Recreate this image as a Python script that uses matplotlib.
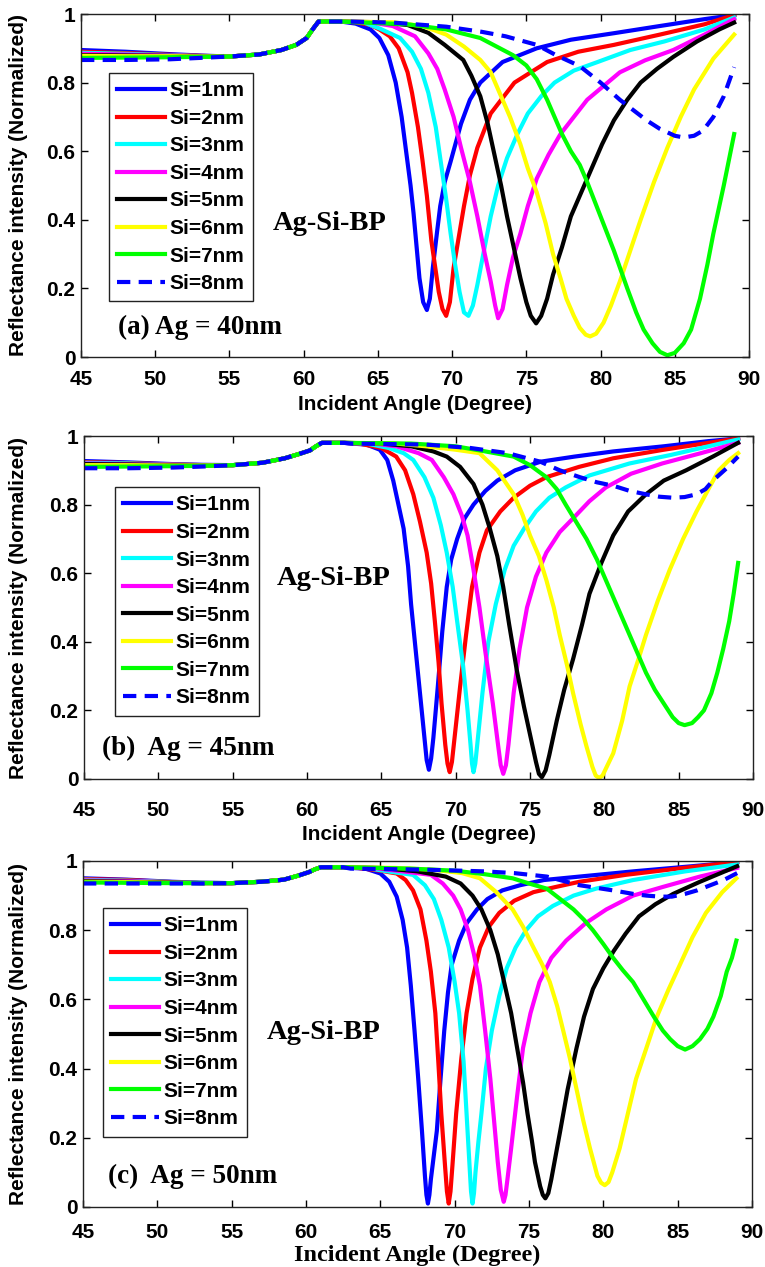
import matplotlib
matplotlib.use('Agg')
import matplotlib.pyplot as plt

plt.rcParams['font.family'] = ['Liberation Sans', 'DejaVu Sans']
plt.rcParams['font.weight'] = 'bold'

labels = ['Si=1nm', 'Si=2nm', 'Si=3nm', 'Si=4nm', 'Si=5nm', 'Si=6nm', 'Si=7nm', 'Si=8nm']
colors = ['#0000ff', '#ff0000', '#00ffff', '#ff00ff', '#000000', '#ffff00', '#00ff00', '#0000ff']

# left part of every curve (45..62.5 deg): per-curve start values, then a shared part
left_x = [45, 48, 51, 53, 55, 57, 58.5, 59.5, 60.2, 60.6, 61.0, 62.5]

# ---------------- (a) Ag = 40nm ----------------
a_head = [[0.895, 0.89, 0.883, 0.879], [0.89, 0.886, 0.881, 0.878], [0.887, 0.884, 0.88, 0.877],
          [0.884, 0.882, 0.879, 0.877], [0.88, 0.879, 0.878, 0.876], [0.878, 0.877, 0.877, 0.876],
          [0.872, 0.873, 0.874, 0.875], [0.866, 0.866, 0.868, 0.872]]
a_shared = [0.876, 0.882, 0.895, 0.91, 0.93, 0.955, 0.978, 0.978]
a_x = [
    [63.5, 64.5, 65.1, 65.7, 66.2, 66.6, 66.9, 67.2, 67.4, 67.8, 68.05, 68.3, 68.5, 68.7, 69.0, 69.2, 69.5, 69.9, 70.6, 71.2, 71.9, 73.4, 75.7, 78.0, 80.9, 84.0, 87.0, 89.0],
    [63.5, 64.5, 65.1, 65.8, 66.4, 67.0, 67.3, 67.7, 68.0, 68.3, 68.6, 68.9, 69.1, 69.35, 69.6, 69.85, 70.1, 70.45, 70.8, 71.2, 71.7, 72.6, 74.2, 76.4, 78.5, 80.9, 84.0, 87.0, 89.0],
    [64.0, 65.1, 66.5, 67.3, 67.9, 68.4, 68.9, 69.3, 69.6, 69.9, 70.2, 70.5, 70.8, 71.1, 71.4, 71.7, 72.1, 72.6, 73.1, 73.7, 74.4, 75.1, 76.0, 76.9, 78.2, 79.8, 82.0, 84.3, 87.0, 89.0],
    [64.5, 66.0, 67.5, 68.4, 69.0, 69.5, 70.1, 70.6, 71.2, 71.7, 72.2, 72.6, 72.9, 73.1, 73.4, 73.7, 74.1, 74.6, 75.1, 75.7, 76.5, 77.3, 78.2, 79.1, 80.2, 81.3, 83.0, 84.9, 87.0, 89.0],
    [65.0, 67.0, 68.4, 69.5, 70.75, 71.3, 71.9, 72.4, 72.8, 73.3, 73.7, 74.2, 74.6, 75.0, 75.3, 75.66, 76.0, 76.4, 76.8, 77.4, 78.0, 78.7, 79.4, 80.1, 80.9, 81.8, 82.7, 83.8, 84.9, 86.5, 88.0, 89.0],
    [66.0, 68.0, 69.6, 70.8, 71.9, 72.6, 73.2, 73.9, 74.6, 75.1, 75.7, 76.3, 76.8, 77.3, 77.7, 78.2, 78.6, 79.0, 79.3, 79.7, 80.2, 80.7, 81.3, 82.0, 82.7, 83.6, 84.5, 85.4, 86.3, 87.6, 89.0],
    [67.0, 69.6, 71.9, 74.1, 75.0, 75.7, 76.4, 76.9, 77.4, 78.0, 78.6, 79.1, 80.0, 80.9, 81.8, 82.4, 82.9, 83.5, 84.0, 84.5, 85.0, 85.6, 86.1, 86.7, 87.2, 87.6, 88.3, 89.0],
    [63, 66, 69.6, 72.0, 73.6, 75.7, 77.0, 78.6, 80.0, 81.3, 82.2, 83.1, 84.0, 85.0, 85.6, 86.3, 86.9, 87.6, 88.3, 89.0],
]
a_y = [
    [0.972, 0.955, 0.93, 0.88, 0.80, 0.70, 0.60, 0.50, 0.42, 0.23, 0.16, 0.137, 0.17, 0.26, 0.37, 0.44, 0.51, 0.57, 0.68, 0.75, 0.80, 0.86, 0.90, 0.925, 0.944, 0.965, 0.985, 0.997],
    [0.976, 0.968, 0.955, 0.935, 0.90, 0.83, 0.77, 0.67, 0.575, 0.47, 0.34, 0.25, 0.19, 0.14, 0.12, 0.16, 0.26, 0.35, 0.44, 0.53, 0.61, 0.71, 0.80, 0.86, 0.89, 0.91, 0.94, 0.97, 0.997],
    [0.976, 0.958, 0.93, 0.89, 0.84, 0.77, 0.67, 0.55, 0.46, 0.36, 0.27, 0.19, 0.13, 0.12, 0.15, 0.21, 0.30, 0.41, 0.50, 0.58, 0.65, 0.71, 0.76, 0.80, 0.835, 0.86, 0.895, 0.92, 0.955, 0.99],
    [0.976, 0.965, 0.935, 0.885, 0.84, 0.78, 0.70, 0.61, 0.51, 0.41, 0.30, 0.22, 0.15, 0.113, 0.14, 0.21, 0.29, 0.36, 0.44, 0.52, 0.59, 0.65, 0.70, 0.75, 0.79, 0.83, 0.865, 0.895, 0.94, 0.985],
    [0.976, 0.968, 0.945, 0.91, 0.866, 0.82, 0.76, 0.68, 0.60, 0.50, 0.41, 0.31, 0.23, 0.16, 0.12, 0.098, 0.12, 0.17, 0.24, 0.32, 0.41, 0.48, 0.55, 0.62, 0.69, 0.75, 0.80, 0.84, 0.875, 0.92, 0.955, 0.975],
    [0.976, 0.965, 0.94, 0.905, 0.866, 0.83, 0.77, 0.70, 0.62, 0.55, 0.48, 0.39, 0.30, 0.23, 0.17, 0.12, 0.085, 0.065, 0.06, 0.068, 0.10, 0.15, 0.22, 0.31, 0.40, 0.51, 0.61, 0.70, 0.78, 0.87, 0.94],
    [0.97, 0.955, 0.93, 0.88, 0.85, 0.81, 0.75, 0.70, 0.65, 0.60, 0.56, 0.51, 0.41, 0.31, 0.20, 0.13, 0.08, 0.04, 0.015, 0.005, 0.012, 0.04, 0.08, 0.17, 0.27, 0.36, 0.50, 0.65],
    [0.978, 0.975, 0.963, 0.948, 0.935, 0.91, 0.88, 0.848, 0.80, 0.75, 0.72, 0.69, 0.665, 0.645, 0.64, 0.645, 0.66, 0.70, 0.76, 0.845],
]

# ---------------- (b) Ag = 45nm ----------------
b_head = [[0.927, 0.923, 0.918, 0.916], [0.924, 0.921, 0.917, 0.915], [0.922, 0.92, 0.916, 0.915],
          [0.92, 0.918, 0.916, 0.914], [0.918, 0.917, 0.915, 0.914], [0.915, 0.915, 0.914, 0.914],
          [0.91, 0.911, 0.912, 0.913], [0.906, 0.906, 0.908, 0.911]]
b_shared = [0.915, 0.922, 0.935, 0.948, 0.958, 0.97, 0.98, 0.98]
b_x = [
    [63.0, 64.0, 64.9, 65.4, 65.8, 66.2, 66.5, 66.8, 67.0, 67.3, 67.6, 67.9, 68.05, 68.2, 68.35, 68.5, 68.8, 69.1, 69.4, 69.7, 70.1, 70.6, 71.2, 72.0, 72.8, 74.0, 75.7, 78.0, 80.6, 84.0, 87.0, 89.0],
    [63.5, 65.0, 66.0, 66.6, 67.15, 67.6, 68.05, 68.35, 68.6, 68.85, 69.05, 69.3, 69.45, 69.6, 69.75, 69.9, 70.3, 70.7, 71.1, 71.6, 72.1, 73.0, 73.9, 75.0, 76.1, 78.3, 80.6, 84.0, 87.0, 89.0],
    [64.0, 65.5, 66.5, 67.15, 67.9, 68.5, 69.0, 69.4, 69.8, 70.1, 70.5, 70.8, 71.0, 71.1, 71.2, 71.32, 71.45, 71.8, 72.2, 72.7, 73.3, 73.9, 74.6, 75.4, 76.3, 77.4, 79.0, 81.7, 84.5, 87.0, 89.0],
    [64.5, 66.0, 67.5, 68.4, 69.2, 69.85, 70.4, 70.8, 71.2, 71.6, 72.0, 72.5, 72.85, 73.03, 73.2, 73.38, 73.55, 73.9, 74.3, 74.8, 75.4, 76.1, 77.0, 77.9, 79.0, 80.1, 81.8, 83.9, 86.5, 89.0],
    [65.0, 67.0, 68.5, 69.4, 70.3, 71.2, 71.8, 72.3, 72.8, 73.2, 73.6, 74.1, 74.6, 75.0, 75.4, 75.6, 75.8, 76.05, 76.3, 76.8, 77.3, 77.9, 78.5, 79.0, 79.8, 80.6, 81.6, 82.8, 84.0, 85.5, 87.3, 89.0],
    [66.0, 68.0, 70.0, 71.6, 72.8, 73.9, 74.5, 75.0, 75.6, 76.1, 76.6, 77.0, 77.5, 77.9, 78.4, 78.8, 79.2, 79.42, 79.65, 79.88, 80.1, 80.6, 81.2, 81.7, 82.3, 82.8, 83.6, 84.4, 85.3, 86.2, 87.0, 87.7, 88.4, 89.0],
    [67.0, 70.0, 72.0, 73.9, 75.0, 76.1, 76.8, 77.4, 78.1, 78.8, 79.5, 80.1, 80.8, 81.5, 82.2, 82.8, 83.4, 84.0, 84.6, 85.0, 85.4, 85.9, 86.3, 86.7, 87.2, 87.6, 88.0, 88.4, 88.7, 89.0],
    [63, 68, 71, 73.5, 75.7, 77.0, 78.35, 79.5, 80.6, 81.7, 82.8, 83.7, 84.6, 85.4, 86.2, 86.8, 87.3, 88.2, 89.0],
]
b_y = [
    [0.978, 0.975, 0.96, 0.93, 0.87, 0.79, 0.73, 0.62, 0.51, 0.38, 0.25, 0.12, 0.055, 0.027, 0.06, 0.12, 0.27, 0.43, 0.56, 0.64, 0.70, 0.76, 0.80, 0.84, 0.87, 0.90, 0.925, 0.94, 0.955, 0.97, 0.985, 0.993],
    [0.978, 0.965, 0.94, 0.90, 0.83, 0.75, 0.66, 0.57, 0.46, 0.34, 0.22, 0.10, 0.045, 0.02, 0.05, 0.11, 0.27, 0.42, 0.56, 0.66, 0.725, 0.78, 0.82, 0.855, 0.88, 0.91, 0.935, 0.96, 0.98, 0.993],
    [0.978, 0.965, 0.95, 0.93, 0.88, 0.82, 0.74, 0.66, 0.56, 0.46, 0.33, 0.20, 0.10, 0.045, 0.02, 0.045, 0.10, 0.25, 0.40, 0.51, 0.61, 0.68, 0.73, 0.78, 0.82, 0.85, 0.885, 0.92, 0.945, 0.97, 0.99],
    [0.978, 0.97, 0.95, 0.93, 0.88, 0.83, 0.77, 0.71, 0.61, 0.50, 0.37, 0.22, 0.10, 0.04, 0.015, 0.04, 0.10, 0.25, 0.38, 0.50, 0.59, 0.66, 0.72, 0.76, 0.81, 0.85, 0.89, 0.92, 0.95, 0.98],
    [0.978, 0.97, 0.955, 0.94, 0.91, 0.86, 0.80, 0.73, 0.65, 0.56, 0.45, 0.32, 0.21, 0.13, 0.05, 0.015, 0.005, 0.025, 0.07, 0.17, 0.26, 0.35, 0.45, 0.54, 0.63, 0.71, 0.78, 0.83, 0.87, 0.90, 0.94, 0.98],
    [0.978, 0.97, 0.96, 0.95, 0.90, 0.83, 0.77, 0.71, 0.65, 0.58, 0.50, 0.42, 0.33, 0.25, 0.16, 0.095, 0.035, 0.01, 0.003, 0.01, 0.03, 0.075, 0.17, 0.27, 0.35, 0.42, 0.52, 0.61, 0.70, 0.78, 0.845, 0.90, 0.93, 0.95],
    [0.978, 0.97, 0.955, 0.94, 0.915, 0.88, 0.845, 0.80, 0.75, 0.70, 0.64, 0.58, 0.51, 0.44, 0.37, 0.31, 0.26, 0.22, 0.18, 0.163, 0.157, 0.163, 0.18, 0.20, 0.25, 0.31, 0.38, 0.46, 0.54, 0.63],
    [0.978, 0.975, 0.965, 0.95, 0.925, 0.90, 0.88, 0.865, 0.855, 0.84, 0.83, 0.823, 0.82, 0.822, 0.83, 0.845, 0.87, 0.905, 0.94],
]

# ---------------- (c) Ag = 50nm ----------------
c_head = [[0.95, 0.946, 0.94, 0.937], [0.948, 0.945, 0.939, 0.937], [0.946, 0.943, 0.939, 0.937],
          [0.944, 0.942, 0.938, 0.936], [0.942, 0.94, 0.938, 0.936], [0.94, 0.939, 0.937, 0.936],
          [0.938, 0.937, 0.936, 0.936], [0.935, 0.935, 0.935, 0.935]]
c_shared = [0.936, 0.94, 0.946, 0.958, 0.968, 0.976, 0.982, 0.982]
c_x = [
    [63.0, 64.0, 65.0, 65.6, 66.1, 66.5, 66.8, 67.05, 67.3, 67.55, 67.8, 68.0, 68.1, 68.2, 68.3, 68.4, 68.6, 68.8, 69.05, 69.3, 69.55, 69.8, 70.3, 70.8, 71.5, 72.2, 73.2, 74.4, 76.0, 78.4, 82.0, 86.0, 89.0],
    [63.5, 65.0, 66.1, 66.7, 67.2, 67.7, 68.1, 68.4, 68.7, 68.9, 69.1, 69.35, 69.48, 69.6, 69.72, 69.85, 70.1, 70.45, 70.8, 71.2, 71.7, 72.3, 73.0, 74.0, 75.3, 76.8, 78.4, 81.5, 85.0, 89.0],
    [64.0, 65.5, 67.2, 68.0, 68.6, 69.1, 69.6, 70.0, 70.3, 70.6, 70.8, 71.0, 71.1, 71.2, 71.3, 71.4, 71.6, 71.8, 72.1, 72.5, 73.0, 73.5, 74.1, 74.8, 75.6, 76.6, 78.0, 79.5, 82.0, 85.5, 89.0],
    [64.5, 66.5, 68.4, 69.2, 69.9, 70.4, 70.9, 71.3, 71.7, 72.05, 72.4, 72.65, 72.9, 73.1, 73.3, 73.42, 73.55, 73.8, 74.2, 74.6, 75.1, 75.7, 76.5, 77.5, 78.8, 80.2, 82.0, 84.0, 86.5, 89.0],
    [65.0, 67.5, 69.4, 70.4, 71.2, 71.8, 72.4, 72.9, 73.3, 73.8, 74.2, 74.6, 74.9, 75.2, 75.4, 75.75, 75.93, 76.1, 76.3, 76.5, 77.1, 77.6, 78.2, 78.7, 79.3, 80.0, 80.7, 81.5, 82.4, 83.5, 84.7, 86.5, 89.0],
    [66.0, 68.5, 70.5, 71.7, 72.8, 73.9, 74.6, 75.3, 75.9, 76.4, 76.9, 77.3, 77.75, 78.2, 78.65, 79.1, 79.6, 79.85, 80.1, 80.35, 80.6, 81.1, 81.65, 82.2, 82.9, 83.6, 84.4, 85.15, 86.0, 86.9, 88.0, 88.95],
    [67.0, 70.0, 72.0, 73.9, 75.0, 76.2, 77.1, 78.0, 78.7, 79.3, 80.0, 80.66, 81.3, 82.0, 82.7, 83.4, 84.0, 84.5, 85.0, 85.5, 86.0, 86.5, 87.0, 87.4, 87.9, 88.3, 88.65, 88.95],
    [63, 68, 72, 74, 76.2, 78.4, 80.66, 82.0, 82.9, 83.8, 84.6, 85.5, 86.3, 87.2, 88.1, 89.0],
]
c_y = [
    [0.98, 0.978, 0.964, 0.94, 0.897, 0.83, 0.75, 0.64, 0.51, 0.37, 0.22, 0.09, 0.035, 0.01, 0.035, 0.08, 0.15, 0.22, 0.37, 0.51, 0.62, 0.70, 0.77, 0.82, 0.86, 0.89, 0.915, 0.93, 0.945, 0.955, 0.97, 0.985, 0.997],
    [0.98, 0.972, 0.964, 0.945, 0.915, 0.86, 0.77, 0.68, 0.56, 0.42, 0.27, 0.12, 0.045, 0.01, 0.045, 0.12, 0.27, 0.43, 0.56, 0.66, 0.75, 0.81, 0.85, 0.885, 0.91, 0.925, 0.94, 0.96, 0.978, 0.997],
    [0.98, 0.97, 0.96, 0.93, 0.89, 0.83, 0.75, 0.65, 0.56, 0.42, 0.27, 0.12, 0.045, 0.01, 0.04, 0.10, 0.19, 0.27, 0.40, 0.51, 0.61, 0.69, 0.75, 0.80, 0.84, 0.87, 0.90, 0.92, 0.945, 0.97, 0.99],
    [0.98, 0.97, 0.96, 0.935, 0.90, 0.86, 0.80, 0.73, 0.64, 0.51, 0.37, 0.25, 0.13, 0.05, 0.015, 0.035, 0.08, 0.17, 0.32, 0.46, 0.56, 0.65, 0.72, 0.77, 0.82, 0.86, 0.90, 0.925, 0.955, 0.98],
    [0.98, 0.97, 0.955, 0.935, 0.90, 0.86, 0.80, 0.73, 0.655, 0.56, 0.46, 0.36, 0.27, 0.19, 0.13, 0.06, 0.035, 0.025, 0.04, 0.08, 0.22, 0.34, 0.46, 0.55, 0.63, 0.69, 0.74, 0.79, 0.84, 0.875, 0.905, 0.94, 0.985],
    [0.98, 0.975, 0.965, 0.95, 0.91, 0.86, 0.81, 0.75, 0.70, 0.65, 0.58, 0.51, 0.43, 0.34, 0.25, 0.17, 0.09, 0.07, 0.063, 0.072, 0.10, 0.17, 0.27, 0.37, 0.46, 0.55, 0.63, 0.70, 0.78, 0.85, 0.91, 0.95],
    [0.978, 0.972, 0.962, 0.95, 0.935, 0.92, 0.89, 0.86, 0.83, 0.80, 0.76, 0.72, 0.685, 0.65, 0.60, 0.55, 0.51, 0.485, 0.465, 0.455, 0.465, 0.485, 0.515, 0.55, 0.61, 0.68, 0.72, 0.77],
    [0.978, 0.975, 0.97, 0.965, 0.955, 0.93, 0.915, 0.905, 0.90, 0.897, 0.897, 0.905, 0.915, 0.93, 0.945, 0.965],
]

W, H = 765, 1267
fig = plt.figure(figsize=(W / 100, H / 100), dpi=100)

# panel boxes in pixels: left, right, top, bottom
panels = [
    dict(box=(81, 749, 14, 357), head=a_head, shared=a_shared, xs=a_x, ys=a_y,
         leg=(0.042, 0.828), bp=(0.287, 0.39), tag='(a) Ag = 40nm', tagpos=(0.055, 0.085),
         xlab_serif=False, xlab_y=-0.111, xpad=9.5),
    dict(box=(84, 753, 436, 779), head=b_head, shared=b_shared, xs=b_x, ys=b_y,
         leg=(0.046, 0.851), bp=(0.288, 0.586), tag='(b)  Ag = 45nm', tagpos=(0.027, 0.09),
         xlab_serif=False, xlab_y=-0.134, xpad=16),
    dict(box=(83, 752, 861, 1207), head=c_head, shared=c_shared, xs=c_x, ys=c_y,
         leg=(0.03, 0.864), bp=(0.275, 0.503), tag='(c)  Ag = 50nm', tagpos=(0.037, 0.087),
         xlab_serif=True, xlab_y=-0.108, xpad=11.5),
]

serif = ['Liberation Serif', 'DejaVu Serif']

for p in panels:
    l, r, t, b = p['box']
    ax = fig.add_axes([l / W, 1 - b / H, (r - l) / W, (b - t) / H])
    for i in range(8):
        x = left_x + p['xs'][i]
        y = p['head'][i] + p['shared'] + p['ys'][i]
        if i == 7:
            ax.plot(x, y, color=colors[i], lw=3, ls='--', dashes=(3.2, 2.0), label=labels[i])
        else:
            ax.plot(x, y, color=colors[i], lw=3, label=labels[i])
    ax.set_xlim(45, 90)
    ax.set_ylim(0, 1)
    ax.set_xticks(range(45, 91, 5))
    ax.set_yticks([0, 0.2, 0.4, 0.6, 0.8, 1])
    ax.set_yticklabels(['0', '0.2', '0.4', '0.6', '0.8', '1'])
    ax.tick_params(direction='in', top=True, right=True, length=5, width=1, labelsize=15)
    ax.tick_params(axis='x', pad=p['xpad'])
    ax.tick_params(axis='y', pad=4)
    for s in ax.spines.values():
        s.set_linewidth(1.0)
        s.set_color('#222222')

    ax.set_ylabel('Reflectance intensity (Normalized)', fontsize=15, fontweight='bold')
    ax.yaxis.set_label_coords((28 - l) / (r - l), 0.5)
    if p['xlab_serif']:
        ax.set_xlabel('Incident Angle (Degree)', fontsize=17.5, fontweight='bold', family=serif)
    else:
        ax.set_xlabel('Incident Angle (Degree)', fontsize=15, fontweight='bold')
    ax.xaxis.set_label_coords(0.5, p['xlab_y'])

    leg = ax.legend(loc='upper left', bbox_to_anchor=p['leg'], borderaxespad=0,
                    fontsize=15, handlelength=2.3, handletextpad=0.2, labelspacing=0.41,
                    borderpad=0.4, fancybox=False, framealpha=1, edgecolor='#222222')
    leg.get_frame().set_linewidth(1.0)

    ax.text(p['bp'][0], p['bp'][1], 'Ag-Si-BP', transform=ax.transAxes, fontsize=20.5,
            fontweight='bold', family=serif, va='center', ha='left')
    ax.text(p['tagpos'][0], p['tagpos'][1], p['tag'], transform=ax.transAxes, fontsize=19.5,
            fontweight='bold', family=serif, va='center', ha='left')

fig.savefig('out.png', dpi=100)
